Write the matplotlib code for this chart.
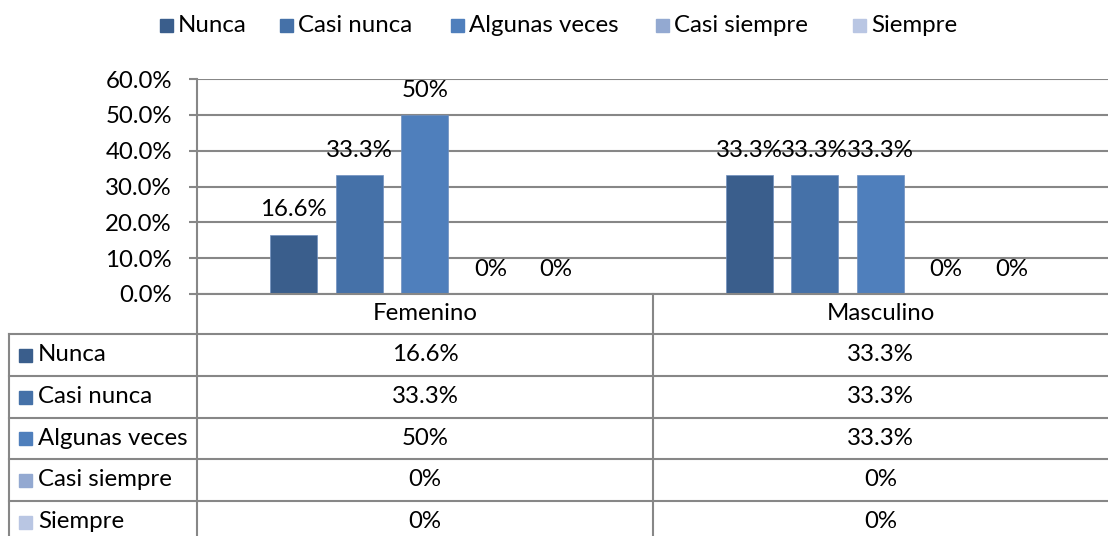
import matplotlib
matplotlib.use("Agg")
import matplotlib.pyplot as plt
from matplotlib.patches import Rectangle
from matplotlib.lines import Line2D

plt.rcParams['font.family'] = ['Lato', 'DejaVu Sans']

W, H = 1108, 536
DPI = 100

categories = ["Femenino", "Masculino"]
series = ["Nunca", "Casi nunca", "Algunas veces", "Casi siempre", "Siempre"]
femenino = [16.6, 33.3, 50, 0, 0]
masculino = [33.3, 33.3, 33.3, 0, 0]
colors = ["#3A5E8C", "#4571A8", "#4F7FBC", "#93A9D1", "#B9C6E3"]
yticks = [0, 10, 20, 30, 40, 50, 60]

values = [femenino, masculino]
FS = 17.3
GRID = "#878787"


def fmt(v):
    return f"{v:g}%"


def fx(x):
    return x / W


def fy(y):
    return 1 - y / H


fig = plt.figure(figsize=(W / DPI, H / DPI), dpi=DPI)

# plot area in pixel coordinates
L, R, T, B = 197, 1108, 79, 294
ax = fig.add_axes([fx(L), fy(B), fx(R - L), (B - T) / H])
ax.set_xlim(-0.5, len(categories) - 0.5)
ax.set_ylim(yticks[0], yticks[-1])
ax.set_yticks(yticks)
ax.set_yticklabels([f"{t:.1f}%" for t in yticks], fontsize=FS)
ax.set_xticks([])
for s in ["top", "right"]:
    ax.spines[s].set_visible(False)
for s in ["left", "bottom"]:
    ax.spines[s].set_color(GRID)
    ax.spines[s].set_linewidth(1.5)
ax.tick_params(axis="y", direction="out", length=6, width=1.5, color=GRID, pad=12)
ax.yaxis.grid(True, color=GRID, linewidth=1.5)
ax.set_axisbelow(True)

n = len(series)
spacing = 0.1438
bw = 0.103
for ci, cat in enumerate(categories):
    for si in range(n):
        x = ci + (si - (n - 1) / 2) * spacing
        v = values[ci][si]
        ax.bar(x, v, width=bw, color=colors[si], edgecolor="#6f8fbf", linewidth=0.5, zorder=2)
        ax.annotate(fmt(v), (x, v), xytext=(0, 13), textcoords="offset points",
                    ha="center", va="baseline", fontsize=FS, color="black",
                    annotation_clip=False)

# legend on top
leg_sq = [160, 280, 451, 656, 853]
for si, name in enumerate(series):
    fig.patches.append(Rectangle((fx(leg_sq[si]), fy(32)), fx(13), 13 / H,
                                 transform=fig.transFigure, color=colors[si]))
    fig.text(fx(leg_sq[si] + 18), fy(25), name, fontsize=FS, ha="left", va="center")

# data table lines
def hline(y, x0, x1):
    fig.add_artist(Line2D([fx(x0), fx(x1)], [fy(y), fy(y)], color=GRID, lw=1.5,
                          transform=fig.transFigure))


def vline(x, y0, y1):
    fig.add_artist(Line2D([fx(x), fx(x)], [fy(y0), fy(y1)], color=GRID, lw=1.5,
                          transform=fig.transFigure))


vline(L, B, H)
vline(653, B, H)
vline(9, 334, H)
row_edges = [334, 376, 418, 459, 501]
for y in row_edges:
    hline(y, 9, W)

# header
cat_centers = [(L + 653) / 2, (653 + R) / 2]
for ci, cat in enumerate(categories):
    fig.text(fx(cat_centers[ci]), fy(314), cat, fontsize=FS, ha="center", va="center")

row_h = 41.7
for si, name in enumerate(series):
    yc = 334 + row_h * (si + 0.5)
    fig.patches.append(Rectangle((fx(19), fy(yc + 7)), fx(13), 13 / H,
                                 transform=fig.transFigure, color=colors[si]))
    fig.text(fx(38), fy(yc), name, fontsize=FS, ha="left", va="center")
    for ci in range(len(categories)):
        fig.text(fx(cat_centers[ci]), fy(yc), fmt(values[ci][si]), fontsize=FS,
                 ha="center", va="center")

fig.savefig("out.png", dpi=DPI, facecolor="white")
